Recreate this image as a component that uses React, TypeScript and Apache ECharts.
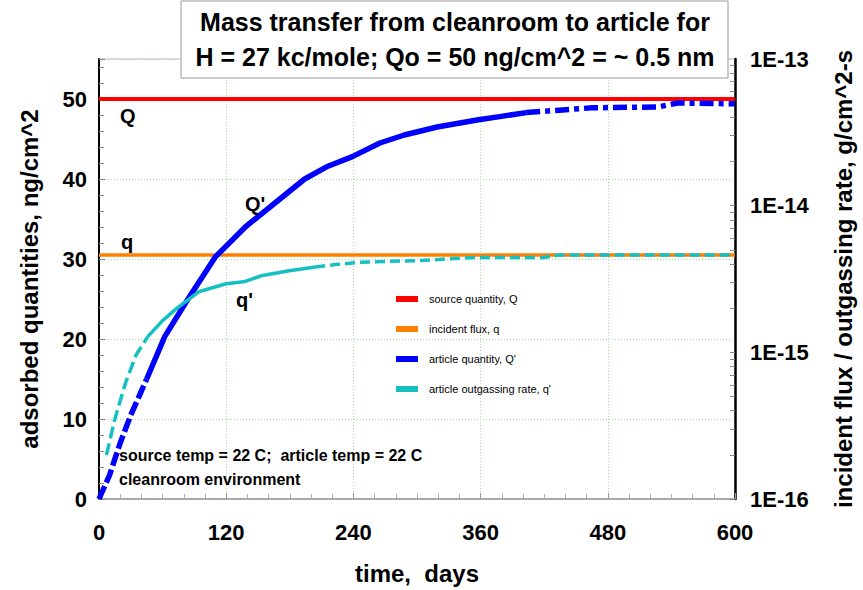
import React, { useEffect, useRef } from 'react';
import * as echarts from 'echarts';

// ---- data ----
const sourceDays = [0, 600];
const sourceQ = [50, 50];
const fluxDays = [0, 600];
const fluxQ = [30.5, 30.5];

const articleDays = [0, 5, 10, 20, 30, 45, 62, 82, 110, 138, 166, 194, 216, 239, 265, 288, 319, 358, 378, 403, 434, 465, 527, 546, 600];
const articleQ = [0, 1.5, 3, 7, 10.5, 15, 20.3, 24.6, 30.3, 34, 37, 40, 41.6, 42.8, 44.5, 45.5, 46.5, 47.4, 47.8, 48.3, 48.6, 48.9, 49.0, 49.5, 49.4];

const outgasDays = [7, 15, 25, 35, 46, 60, 73, 94, 120, 138, 153, 178, 204, 223, 247, 300, 356, 419, 434, 470, 600];
const outgasQ = [5.5, 10, 14.5, 18, 20.3, 22.3, 23.8, 25.9, 26.9, 27.2, 27.9, 28.5, 29.0, 29.3, 29.6, 29.8, 30.2, 30.2, 30.5, 30.5, 30.5];

// segment break indices (line style changes)
const articleBreaks = [5, 19];
const outgasBreaks = [4, 12];

const rightDecades = [1e-16, 1e-15, 1e-14];
const decadeMultipliers = [1, 2, 3, 4, 5, 6, 7, 8, 9];
const rightMax = 1e-13;

const FONT = 'Liberation Sans, Arial, sans-serif';

const zip = (xs: number[], ys: number[]) => xs.map((x, i) => [x, ys[i]]);

export default function App() {
  const ref = useRef<HTMLDivElement>(null);
  useEffect(() => {
    if (!ref.current) return;
    const chart = echarts.init(ref.current, null, { renderer: 'svg' });

    const art = zip(articleDays, articleQ);
    const out = zip(outgasDays, outgasQ);
    const artSegs = [art.slice(0, articleBreaks[0] + 1), art.slice(articleBreaks[0], articleBreaks[1] + 1), art.slice(articleBreaks[1])];
    const outSegs = [out.slice(0, outgasBreaks[0] + 1), out.slice(outgasBreaks[0], outgasBreaks[1] + 1), out.slice(outgasBreaks[1])];
    const artTypes: any[] = [[14, 4], 'solid', [14, 5, 5, 5]];
    const outTypes: any[] = [[12, 5], 'solid', [10, 5]];

    const rightTickVals: number[] = [];
    rightDecades.forEach((d) => decadeMultipliers.forEach((m) => rightTickVals.push(d * m)));
    rightTickVals.push(rightMax);

    const BLUE = '#0000ff';
    const CYAN = '#14c0c0';

    const series: any[] = [
      { name: 'source quantity, Q', type: 'line', data: zip(sourceDays, sourceQ), showSymbol: false, symbol: 'none', lineStyle: { color: '#ff0000', width: 4 }, itemStyle: { color: '#ff0000' }, yAxisIndex: 0, z: 2 },
      { name: 'incident flux, q', type: 'line', data: zip(fluxDays, fluxQ), showSymbol: false, symbol: 'none', lineStyle: { color: '#ff8000', width: 3.5 }, itemStyle: { color: '#ff8000' }, yAxisIndex: 0, z: 2 },
    ];
    artSegs.forEach((seg, i) => {
      series.push({ name: "article quantity, Q'", type: 'line', data: seg, showSymbol: false, symbol: 'none', lineStyle: { color: BLUE, width: 5.5, type: artTypes[i], cap: 'butt', join: 'round' }, itemStyle: { color: BLUE }, yAxisIndex: 0, z: 3 });
    });
    outSegs.forEach((seg, i) => {
      series.push({ name: "article outgassing rate, q'", type: 'line', data: seg, showSymbol: false, symbol: 'none', lineStyle: { color: CYAN, width: 3.5, type: outTypes[i], cap: 'butt', join: 'round' }, itemStyle: { color: CYAN }, yAxisIndex: 0, z: 4 });
    });

    const boldLabel = { color: '#000', fontFamily: FONT, fontWeight: 'bold' as const, fontSize: 22 };
    const nameStyle = { color: '#000', fontFamily: FONT, fontWeight: 'bold' as const, fontSize: 24 };

    chart.setOption({
      animation: false,
      backgroundColor: '#fff',
      grid: { left: 99, right: 122, top: 59, bottom: 89, show: true, borderColor: '#bbbbbb', borderWidth: 1, backgroundColor: '#fff' },
      legend: {
        orient: 'vertical',
        left: 391,
        top: 287,
        itemWidth: 22,
        itemHeight: 6,
        itemGap: 16,
        icon: 'rect',
        textStyle: { fontFamily: FONT, fontSize: 11, color: '#000', lineHeight: 14, padding: [0, 0, 0, 6] },
        data: [
          { name: 'source quantity, Q', itemStyle: { color: '#ff0000' } },
          { name: 'incident flux, q', itemStyle: { color: '#ff8000' } },
          { name: "article quantity, Q'", itemStyle: { color: BLUE } },
          { name: "article outgassing rate, q'", itemStyle: { color: CYAN } },
        ],
      },
      xAxis: {
        type: 'value', min: 0, max: 600, interval: 120,
        name: 'time,  days', nameLocation: 'middle', nameGap: 62, nameTextStyle: nameStyle,
        axisLine: { show: true, lineStyle: { color: '#999999', width: 1.5 } },
        axisTick: { show: true, inside: true, length: 6, lineStyle: { color: '#999999' } },
        minorTick: { show: true, splitNumber: 6, length: 5, lineStyle: { color: '#aaaaaa' } },
        axisLabel: { ...boldLabel, margin: 22 },
        splitLine: { show: true, lineStyle: { color: '#a8d8a8', type: [1, 2], width: 1 } },
      },
      yAxis: [
        {
          type: 'value', min: 0, max: 55, interval: 10, position: 'left',
          name: 'adsorbed quantities, ng/cm^2', nameLocation: 'middle', nameGap: 58, nameTextStyle: nameStyle,
          axisLine: { show: true, onZero: false, lineStyle: { color: '#000', width: 2 } },
          axisTick: { show: true, inside: true, length: 6, lineStyle: { color: '#888' } },
          minorTick: { show: true, splitNumber: 5, length: 5, lineStyle: { color: '#888' } },
          axisLabel: { ...boldLabel, margin: 12, showMaxLabel: false },
          splitLine: { show: true, lineStyle: { color: '#a8d8a8', type: [1, 2], width: 1 } },
        },
        {
          type: 'log', logBase: 10, min: 1e-16, max: rightMax, position: 'right',
          name: 'incident flux / outgassing rate, g/cm^2-s', nameLocation: 'middle', nameGap: 96, nameTextStyle: nameStyle,
          axisLine: { show: true, onZero: false, lineStyle: { color: '#000', width: 2.5 } },
          axisTick: { show: true, inside: true, length: 5, customValues: rightTickVals, lineStyle: { color: '#888' } },
          axisLabel: {
            ...boldLabel, margin: 15,
            formatter: (v: number) => '1E' + Math.round(Math.log10(v)),
          },
          splitLine: { show: false },
        },
      ],
      graphic: [
        { type: 'rect', z: 100, shape: { x: 181, y: 1, width: 547, height: 77 }, style: { fill: '#fff', stroke: '#999', lineWidth: 1 } },
        { type: 'text', z: 101, x: 455, y: 22, style: { text: 'Mass transfer from cleanroom to article for', fontFamily: FONT, fontWeight: 'bold', fontSize: 25, fill: '#000', align: 'center', verticalAlign: 'middle' } },
        { type: 'text', z: 101, x: 455, y: 57, style: { text: 'H = 27 kc/mole; Qo = 50 ng/cm^2 = ~ 0.5 nm', fontFamily: FONT, fontWeight: 'bold', fontSize: 25, fill: '#000', align: 'center', verticalAlign: 'middle' } },
        { type: 'text', z: 50, x: 120, y: 116, style: { text: 'Q', fontFamily: FONT, fontWeight: 'bold', fontSize: 20, fill: '#000', verticalAlign: 'middle' } },
        { type: 'text', z: 50, x: 121, y: 242, style: { text: 'q', fontFamily: FONT, fontWeight: 'bold', fontSize: 20, fill: '#000', verticalAlign: 'middle' } },
        { type: 'text', z: 50, x: 245, y: 204, style: { text: "Q'", fontFamily: FONT, fontWeight: 'bold', fontSize: 20, fill: '#000', verticalAlign: 'middle' } },
        { type: 'text', z: 50, x: 236, y: 300, style: { text: "q'", fontFamily: FONT, fontWeight: 'bold', fontSize: 20, fill: '#000', verticalAlign: 'middle' } },
        { type: 'text', z: 50, x: 119, y: 455, style: { text: 'source temp = 22 C;  article temp = 22 C', fontFamily: FONT, fontWeight: 'bold', fontSize: 16, fill: '#000', verticalAlign: 'middle' } },
        { type: 'text', z: 50, x: 119, y: 479, style: { text: 'cleanroom environment', fontFamily: FONT, fontWeight: 'bold', fontSize: 16, fill: '#000', verticalAlign: 'middle' } },
      ],
      series,
    });
    return () => chart.dispose();
  }, []);
  return <div ref={ref} style={{ position: 'fixed', left: 0, top: 0, width: 863, height: 590 }} />;
}
